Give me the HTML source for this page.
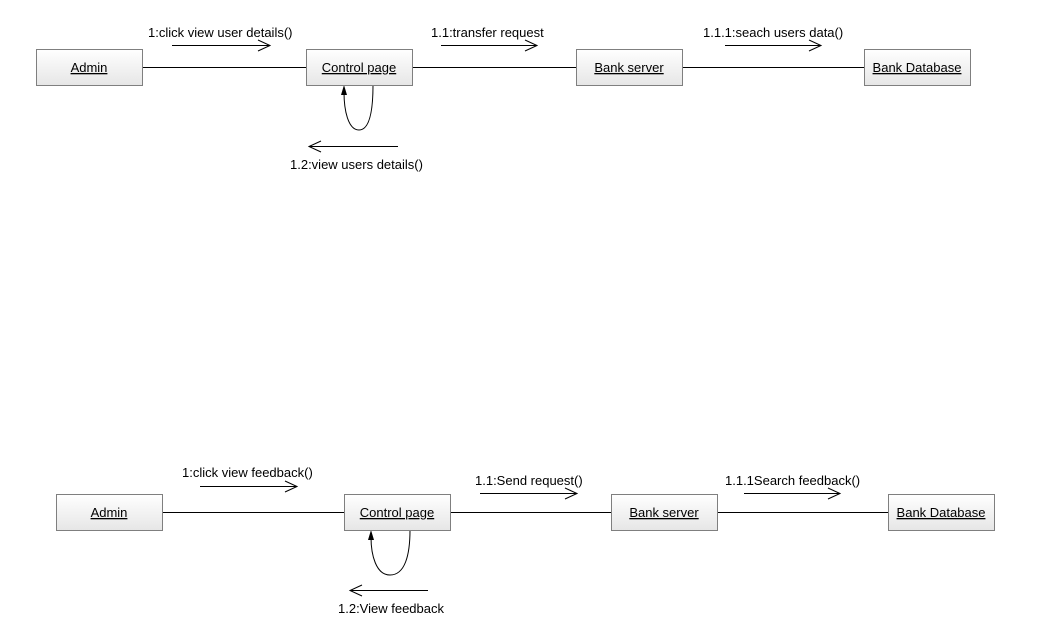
<!DOCTYPE html>
<html><head><meta charset="utf-8"><style>
html,body{margin:0;padding:0;background:#fff;}
svg{display:block;}
text{font-family:"Liberation Sans",Arial,sans-serif;font-size:13px;fill:#000;}
</style></head><body>
<svg width="1039" height="627" viewBox="0 0 1039 627" xmlns="http://www.w3.org/2000/svg">
<defs>
<linearGradient id="g" x1="0" y1="0" x2="0" y2="1"><stop offset="0" stop-color="#ffffff"/><stop offset="1" stop-color="#e6e6e6"/></linearGradient>
</defs>
<g stroke="#000" stroke-width="1" fill="none">
<line x1="142" y1="67.5" x2="306" y2="67.5"/>
<line x1="412" y1="67.5" x2="576" y2="67.5"/>
<line x1="682" y1="67.5" x2="864" y2="67.5"/>
<line x1="162" y1="512.5" x2="344" y2="512.5"/>
<line x1="450" y1="512.5" x2="611" y2="512.5"/>
<line x1="717" y1="512.5" x2="888" y2="512.5"/>
<line x1="172" y1="45.5" x2="270" y2="45.5"/><polyline points="258,40 270,45.5 258,51"/>
<line x1="441" y1="45.5" x2="537" y2="45.5"/><polyline points="525,40 537,45.5 525,51"/>
<line x1="725" y1="45.5" x2="821" y2="45.5"/><polyline points="809,40 821,45.5 809,51"/>
<line x1="309" y1="146.5" x2="398" y2="146.5"/><polyline points="321,141 309,146.5 321,152"/>
<line x1="200" y1="486.5" x2="297" y2="486.5"/><polyline points="285,481 297,486.5 285,492"/>
<line x1="480" y1="493.5" x2="577" y2="493.5"/><polyline points="565,488 577,493.5 565,499"/>
<line x1="744" y1="493.5" x2="840" y2="493.5"/><polyline points="828,488 840,493.5 828,499"/>
<line x1="350" y1="590.5" x2="428" y2="590.5"/><polyline points="362,585 350,590.5 362,596"/>
<path d="M373 85 C373 110 370 130 359 130 C348 130 344 110 344 92"/>
<path d="M410 530 C410 555 405 575 390 575 C376 575 371 555 371 537"/>
</g>
<polygon points="344,85 341,95 347,95" fill="#000"/>
<polygon points="371,530 368,540 374,540" fill="#000"/>
<g stroke="#7f7f7f" fill="url(#g)">
<rect x="36.5" y="49.5" width="106" height="36"/>
<rect x="306.5" y="49.5" width="106" height="36"/>
<rect x="576.5" y="49.5" width="106" height="36"/>
<rect x="864.5" y="49.5" width="106" height="36"/>
<rect x="56.5" y="494.5" width="106" height="36"/>
<rect x="344.5" y="494.5" width="106" height="36"/>
<rect x="611.5" y="494.5" width="106" height="36"/>
<rect x="888.5" y="494.5" width="106" height="36"/>
</g>
<g text-anchor="middle">
<text x="89" y="72" text-decoration="underline">Admin</text>
<text x="359" y="72" text-decoration="underline">Control page</text>
<text x="629" y="72" text-decoration="underline">Bank server</text>
<text x="917" y="72" text-decoration="underline">Bank Database</text>
<text x="109" y="517" text-decoration="underline">Admin</text>
<text x="397" y="517" text-decoration="underline">Control page</text>
<text x="664" y="517" text-decoration="underline">Bank server</text>
<text x="941" y="517" text-decoration="underline">Bank Database</text>
</g>
<g>
<text x="148" y="37">1:click view user details()</text>
<text x="431" y="37">1.1:transfer request</text>
<text x="703" y="37">1.1.1:seach users data()</text>
<text x="290" y="169">1.2:view users details()</text>
<text x="182" y="477">1:click view feedback()</text>
<text x="475" y="485">1.1:Send request()</text>
<text x="725" y="485">1.1.1Search feedback()</text>
<text x="338" y="613">1.2:View feedback</text>
</g>
</svg>
</body></html>
